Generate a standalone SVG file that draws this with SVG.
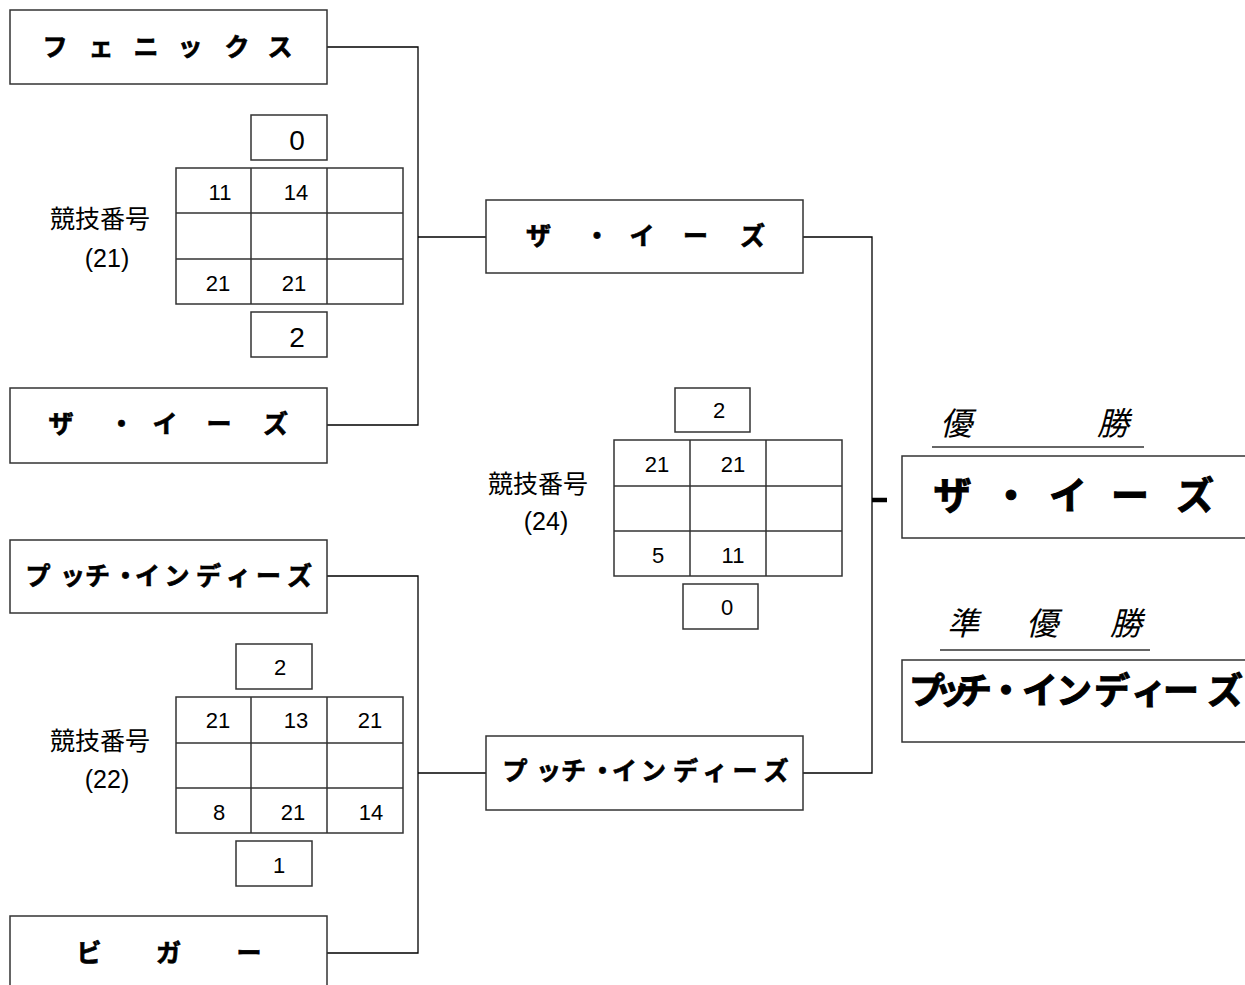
<svg xmlns="http://www.w3.org/2000/svg" width="1245" height="985" viewBox="0 0 1245 985">
<style>
.box{fill:#fff;stroke:#333;stroke-width:1.5}
.cell{fill:none;stroke:#333;stroke-width:1.5}
.team{font-family:"Noto Sans CJK JP","Noto Sans CJK SC",sans-serif;font-weight:700;font-size:25px;text-anchor:middle;fill:#000;stroke:#000;stroke-width:0.7}
.big{font-size:38px;stroke-width:1}
.mid{font-size:36px;stroke-width:1}
.num{font-family:"Liberation Sans",Arial,sans-serif;font-size:22px;text-anchor:middle;fill:#000}
.score{font-size:28px}
.lbl{font-family:"Liberation Sans","Noto Sans CJK JP",sans-serif;font-size:25px;text-anchor:middle;fill:#000}
.ttl{font-family:"Noto Sans CJK JP",sans-serif;font-style:italic;font-size:32px;text-anchor:middle;fill:#000}
.conn{stroke:#000;stroke-width:1.3;fill:none}
.ul{stroke:#333;stroke-width:1.5}
</style>
<rect width="1245" height="985" fill="#fff"/>

<g id="connectors">
<polyline class="conn" points="327,47 418,47 418,425 327,425"/>
<line class="conn" x1="418" y1="237" x2="486" y2="237"/>
<polyline class="conn" points="327,576 418,576 418,953 327,953"/>
<line class="conn" x1="418" y1="773" x2="486" y2="773"/>
<polyline class="conn" points="803,237 872,237 872,773 803,773"/>
<line x1="872" y1="500" x2="887" y2="500" stroke="#000" stroke-width="4.5"/>
</g>

<g id="team-phoenix">
<rect class="box" x="10" y="10" width="317" height="74"/>
<text class="team" x="55 101 146 190 237 280" y="56">フェニックス</text>
</g>
<g id="team-ease-1">
<rect class="box" x="10" y="388" width="317" height="75"/>
<text class="team" x="61 121.5 165 219 275.5" y="433">ザ・イーズ</text>
</g>
<g id="team-putch-1">
<rect class="box" x="10" y="540" width="317" height="73"/>
<text class="team" x="38 72.5 97.5 125.5 147.5 177 208.5 238.5 268.5 299.5" y="585">プッチ・インディーズ</text>
</g>
<g id="team-bigger">
<rect class="box" x="10" y="916" width="317" height="80"/>
<text class="team" x="89 168.5 249" y="962">ビガー</text>
</g>
<g id="team-ease-2">
<rect class="box" x="486" y="200" width="317" height="73"/>
<text class="team" x="538.5 597 642 695.5 752.5" y="245">ザ・イーズ</text>
</g>
<g id="team-putch-2">
<rect class="box" x="486" y="736" width="317" height="74"/>
<text class="team" x="515 548.5 573.5 602.5 624.5 653.5 685.5 715 745 776" y="780">プッチ・インディーズ</text>
</g>

<g id="match-21">
<text class="lbl" x="100" y="228">競技番号</text>
<text class="lbl" x="107" y="267">(21)</text>
<rect class="box" x="251" y="115" width="76" height="45"/>
<text class="num score" x="297" y="150">0</text>
<rect class="cell" x="176" y="168" width="227" height="136"/>
<path class="cell" d="M176 213H403M176 259H403M251 168V304M327 168V304"/>
<text class="num" x="220" y="200">11</text>
<text class="num" x="296" y="200">14</text>
<text class="num" x="218" y="291">21</text>
<text class="num" x="294" y="291">21</text>
<rect class="box" x="251" y="312" width="76" height="45"/>
<text class="num score" x="297" y="347">2</text>
</g>

<g id="match-22">
<text class="lbl" x="100" y="750">競技番号</text>
<text class="lbl" x="107" y="788">(22)</text>
<rect class="box" x="236" y="644" width="76" height="45"/>
<text class="num" x="280" y="675">2</text>
<rect class="cell" x="176" y="697" width="227" height="136"/>
<path class="cell" d="M176 743H403M176 788H403M251 697V833M327 697V833"/>
<text class="num" x="218" y="728">21</text>
<text class="num" x="296" y="728">13</text>
<text class="num" x="370" y="728">21</text>
<text class="num" x="219" y="820">8</text>
<text class="num" x="293" y="820">21</text>
<text class="num" x="371" y="820">14</text>
<rect class="box" x="236" y="841" width="76" height="45"/>
<text class="num" x="279" y="873">1</text>
</g>

<g id="match-24">
<text class="lbl" x="538" y="493">競技番号</text>
<text class="lbl" x="546" y="530">(24)</text>
<rect class="box" x="675" y="388" width="75" height="44"/>
<text class="num" x="719" y="418">2</text>
<rect class="cell" x="614" y="440" width="228" height="136"/>
<path class="cell" d="M614 486H842M614 531H842M690 440V576M766 440V576"/>
<text class="num" x="657" y="472">21</text>
<text class="num" x="733" y="472">21</text>
<text class="num" x="658" y="563">5</text>
<text class="num" x="733" y="563">11</text>
<rect class="box" x="683" y="584" width="75" height="45"/>
<text class="num" x="727" y="615">0</text>
</g>

<g id="winner">
<text class="ttl" x="956 1113" y="435">優勝</text>
<line class="ul" x1="932" y1="447" x2="1144" y2="447"/>
<rect class="box" x="902" y="456" width="360" height="82"/>
<text class="team big" x="952.5 1011 1068 1130 1195" y="509">ザ・イーズ</text>
</g>

<g id="runner-up">
<text class="ttl" x="963 1042 1126" y="635">準優勝</text>
<line class="ul" x1="940" y1="650" x2="1150" y2="650"/>
<rect class="box" x="902" y="660" width="360" height="82"/>
<text class="team mid" x="927 952 974 1006 1040 1074 1112 1149 1181 1225" y="704">プッチ・インディーズ</text>
</g>
</svg>
